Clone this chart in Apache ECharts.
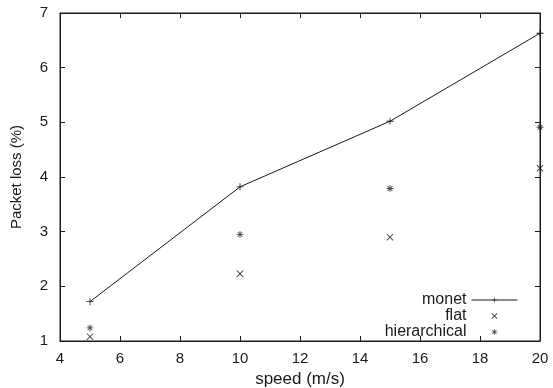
<!DOCTYPE html>
<html>
<head>
<meta charset="utf-8">
<script src="https://cdn.jsdelivr.net/npm/echarts@6/dist/echarts.min.js"></script>
<style>
  html, body { margin: 0; padding: 0; background: #fff; }
  #chart { width: 553px; height: 388px; }
</style>
</head>
<body>
<div id="chart"></div>
<script>
const speeds = [5, 10, 15, 20]
const monet = [1.72, 3.82, 5.02, 6.63]
const flat = [1.08, 2.23, 2.90, 4.16]
const hierarchical = [1.24, 2.95, 3.79, 4.91]

const plus = 'path://M0,4.4H10V5.6H0Z M4.4,0H5.6V10H4.4Z'
const cross = 'path://M1.2,2L2,1.2L8.8,8L8,8.8Z M8,1.2L8.8,2L2,8.8L1.2,8Z'
const star = 'path://M0,4.4H10V5.6H0Z M4.4,0H5.6V10H4.4Z M1.2,2L2,1.2L8.8,8L8,8.8Z M8,1.2L8.8,2L2,8.8L1.2,8Z'

const pairs = vals => speeds.map((s, i) => [s, vals[i]])
const font = 'Liberation Sans, Arial, sans-serif'
const ink = '#1a1a1a'

const chart = echarts.init(document.getElementById('chart'))

const axisCommon = {
  axisLine: { show: true, lineStyle: { color: ink, width: 1 } },
  axisTick: { show: true, inside: true, length: 5, lineStyle: { color: ink } },
  splitLine: { show: false },
}

chart.setOption({
  animation: false,
  textStyle: { fontFamily: font },
  grid: {
    left: 60, right: 13, top: 13, bottom: 47,
    outerBoundsMode: 'none', containLabel: false,
    show: true, borderColor: ink, borderWidth: 1,
  },
  legend: {
    right: 30,
    top: 287,
    orient: 'vertical',
    align: 'right',
    itemWidth: 46,
    itemHeight: 6,
    itemGap: 0,
    lineStyle: { width: 1 },
    textStyle: { fontFamily: font, fontSize: 16, color: ink, lineHeight: 16 },
    data: [
      { name: 'monet' },
      { name: 'flat', icon: cross },
      { name: 'hierarchical', icon: star },
    ],
  },
  xAxis: [
    {
      type: 'value', min: 4, max: 20, interval: 2,
      ...axisCommon,
      axisLabel: { color: ink, fontSize: 15, fontFamily: font, margin: 10 },
      name: 'speed (m/s)', nameLocation: 'middle', nameGap: 29,
      nameTextStyle: { color: ink, fontSize: 17, fontFamily: font },
    },
    {
      type: 'value', min: 4, max: 20, interval: 2, position: 'top',
      ...axisCommon, axisLabel: { show: false },
    },
  ],
  yAxis: [
    {
      type: 'value', min: 1, max: 7, interval: 1,
      ...axisCommon,
      axisLabel: { color: ink, fontSize: 15, fontFamily: font, margin: 12 },
      name: 'Packet loss (%)', nameLocation: 'middle', nameGap: 36,
      nameTextStyle: { color: ink, fontSize: 15, fontFamily: font },
    },
    {
      type: 'value', min: 1, max: 7, interval: 1, position: 'right',
      ...axisCommon, axisLabel: { show: false },
    },
  ],
  series: [
    {
      name: 'monet', type: 'line', data: pairs(monet),
      symbol: plus, symbolSize: 7, showSymbol: true,
      lineStyle: { color: ink, width: 1 }, itemStyle: { color: ink },
    },
    {
      name: 'flat', type: 'scatter', data: pairs(flat),
      symbol: cross, symbolSize: 7, itemStyle: { color: ink },
    },
    {
      name: 'hierarchical', type: 'scatter', data: pairs(hierarchical),
      symbol: star, symbolSize: 7, itemStyle: { color: ink },
    },
  ],
})
</script>
</body>
</html>
